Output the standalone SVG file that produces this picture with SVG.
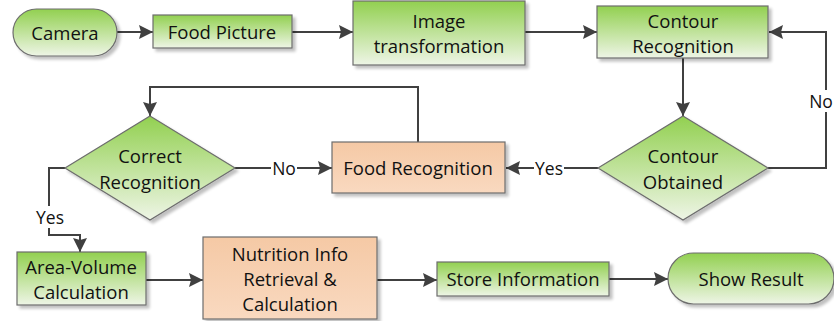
<svg xmlns="http://www.w3.org/2000/svg" width="834" height="321" viewBox="0 0 834 321">
  <defs>
    <linearGradient id="green" x1="0" y1="0" x2="0" y2="1">
      <stop offset="0" stop-color="#92d050"/>
      <stop offset="1" stop-color="#eef5e6"/>
    </linearGradient>
    <linearGradient id="orange" x1="0" y1="0" x2="0" y2="1">
      <stop offset="0" stop-color="#f5c9a5"/>
      <stop offset="1" stop-color="#f9d9c0"/>
    </linearGradient>
    <filter id="shadow" x="-10%" y="-10%" width="130%" height="140%">
      <feGaussianBlur in="SourceAlpha" stdDeviation="1.5"/>
      <feOffset dx="3" dy="3" result="b"/>
      <feComponentTransfer><feFuncA type="linear" slope="0.25"/></feComponentTransfer>
      <feMerge><feMergeNode/><feMergeNode in="SourceGraphic"/></feMerge>
    </filter>
    <marker id="arrow" viewBox="0 0 14 14" refX="14" refY="7" markerWidth="14" markerHeight="14" markerUnits="userSpaceOnUse" orient="auto">
      <path d="M0,0 L14,7 L0,14 L2,7 z" fill="#404040"/>
    </marker>
  </defs>
  <style>
    .g { fill: url(#green); stroke: #6d6d6d; stroke-width: 1.2; filter: url(#shadow); }
    .o { fill: url(#orange); stroke: #6d6d6d; stroke-width: 1.2; filter: url(#shadow); }
    text { font-family: "Open Sans", "Noto Sans", "Liberation Sans", sans-serif; font-size: 18.5px; fill: #111; text-anchor: middle; dominant-baseline: central; }
    .edge { fill: none; stroke: #404040; stroke-width: 2; marker-end: url(#arrow); }
    .lbl { font-size: 17.5px; }
  </style>

  <g id="connectors">
    <path class="edge" d="M117,32 H153"/>
    <path class="edge" d="M292,32 H353"/>
    <path class="edge" d="M525,32 H597"/>
    <path class="edge" d="M683,58 V116"/>
    <path class="edge" d="M768,168 H826 V32 H769"/>
    <path class="edge" d="M598,168 H506"/>
    <path class="edge" d="M418,142 V87 H150 V116"/>
    <path class="edge" d="M235,168 H332"/>
    <path class="edge" d="M65,168 H49 V235 H80 V252"/>
    <path class="edge" d="M146,280 H203"/>
    <path class="edge" d="M377,280 H437"/>
    <path class="edge" d="M609,279 H668"/>
    <rect x="810" y="90" width="24" height="22" fill="#fff"/>
    <text class="lbl" x="821" y="101">No</text>
    <rect x="534" y="157" width="30" height="22" fill="#fff"/>
    <text class="lbl" x="549" y="168">Yes</text>
    <rect x="271" y="157" width="26" height="22" fill="#fff"/>
    <text class="lbl" x="284" y="168">No</text>
    <rect x="35" y="206" width="30" height="22" fill="#fff"/>
    <text class="lbl" x="50" y="217">Yes</text>
  </g>

  <g id="camera">
    <rect class="g" x="13" y="9" width="104" height="47" rx="23.5"/>
    <text x="65" y="32">Camera</text>
  </g>
  <g id="food-picture">
    <rect class="g" x="153" y="15" width="139" height="33"/>
    <text x="222" y="31">Food Picture</text>
  </g>
  <g id="image-transformation">
    <rect class="g" x="353" y="1" width="172" height="64"/>
    <text x="439" y="20">Image</text>
    <text x="439" y="45">transformation</text>
  </g>
  <g id="contour-recognition">
    <rect class="g" x="597" y="6" width="171" height="52"/>
    <text x="683" y="20">Contour</text>
    <text x="683" y="45">Recognition</text>
  </g>
  <g id="contour-obtained">
    <path class="g" d="M683,116 L768,168 L683,220 L598,168 z"/>
    <text x="683" y="155">Contour</text>
    <text x="683" y="181">Obtained</text>
  </g>
  <g id="food-recognition">
    <rect class="o" x="332" y="142" width="173" height="51"/>
    <text x="418" y="167">Food Recognition</text>
  </g>
  <g id="correct-recognition">
    <path class="g" d="M150,116 L235,168 L150,220 L65,168 z"/>
    <text x="150" y="155">Correct</text>
    <text x="150" y="181">Recognition</text>
  </g>
  <g id="area-volume">
    <rect class="g" x="17" y="252" width="129" height="53"/>
    <text x="81" y="266">Area-Volume</text>
    <text x="81" y="291">Calculation</text>
  </g>
  <g id="nutrition-info">
    <rect class="o" x="203" y="237" width="174" height="82"/>
    <text x="290" y="253">Nutrition Info</text>
    <text x="290" y="278">Retrieval &amp;</text>
    <text x="290" y="303">Calculation</text>
  </g>
  <g id="store-information">
    <rect class="g" x="437" y="262" width="172" height="34"/>
    <text x="523" y="278">Store Information</text>
  </g>
  <g id="show-result">
    <rect class="g" x="668" y="253" width="166" height="51" rx="25.5"/>
    <text x="751" y="278">Show Result</text>
  </g>
</svg>
